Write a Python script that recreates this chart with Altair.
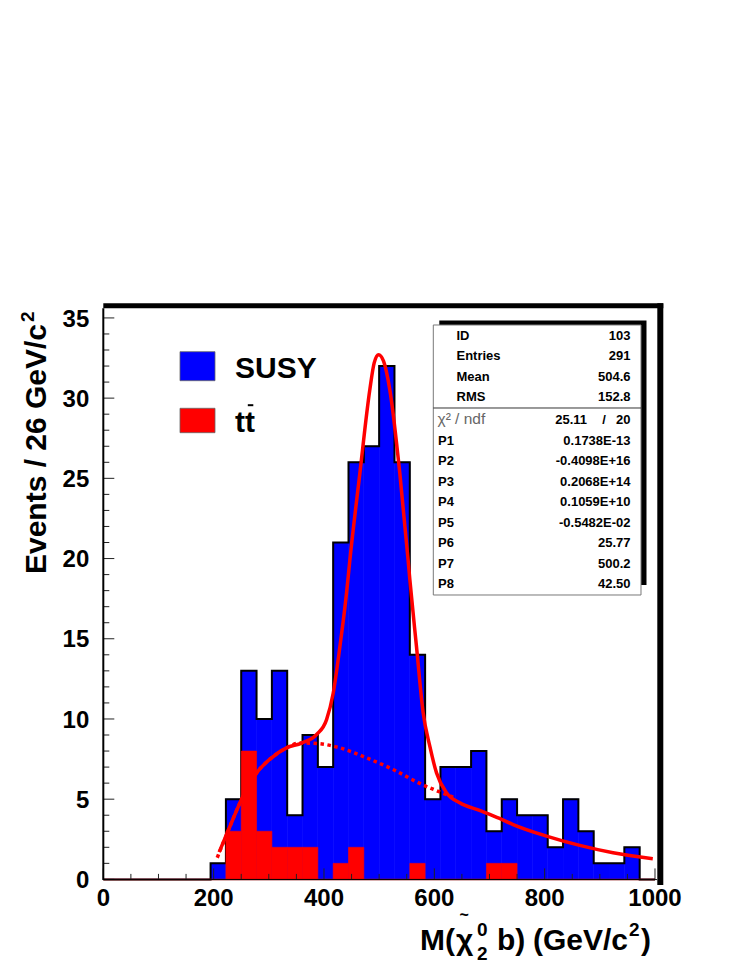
import altair as alt
import pandas as pd

# ---------------- data ----------------
n_bins = 36
x_lo, x_hi = 0.0, 1000.0
susy_counts = [0, 0, 0, 0, 0, 0, 0, 1, 5, 13, 10, 13, 4, 9, 7, 21, 26, 27, 32, 26, 14,
               5, 7, 7, 8, 3, 5, 4, 4, 2, 5, 3, 1, 1, 2, 0]
ttbar_counts = [0, 0, 0, 0, 0, 0, 0, 0, 3, 8, 3, 2, 2, 2, 0, 1, 2, 0, 0, 0, 1,
                0, 0, 0, 0, 1, 1, 0, 0, 0, 0, 0, 0, 0, 0, 0]

fit_x = [210, 229.5, 250.7, 277.9, 305, 332, 359.4, 386.6, 404.7, 416.7, 428.8, 440.9,
         446.9, 465, 483, 491, 499, 508, 519.4, 537.5, 552.5, 555.6, 567.7, 579.7,
         591.8, 604, 622, 646, 682, 718.3, 742.8, 803.3, 863.6, 924, 996]
fit_y = [1.7, 3.3, 5.0, 6.64, 7.58, 8.2, 8.5, 9.03, 9.96, 11.6, 14.5, 17.85,
         19.9, 25.3, 30.5, 32.2, 32.7, 32.3, 30.5, 25.3, 19.9, 18.7, 14.5, 10.4,
         8.3, 6.64, 5.4, 4.78, 4.3, 3.8, 3.42, 2.7, 2.12, 1.66, 1.29]

bkg_x = [206.5, 229.5, 250.7, 277.9, 305, 332, 356, 386.6, 428.8, 477, 525.4, 573.7, 610, 640]
bkg_y = [1.35, 3.3, 5.0, 6.64, 7.58, 8.2, 8.5, 8.47, 8.2, 7.58, 6.85, 5.98, 5.45, 5.05]

x_major = [0, 200, 400, 600, 800, 1000]
x_minor = [50, 100, 150, 250, 300, 350, 450, 500, 550, 650, 700, 750, 850, 900, 950]
y_major = [0, 5, 10, 15, 20, 25, 30, 35]
y_minor = [1, 2, 3, 4, 6, 7, 8, 9, 11, 12, 13, 14, 16, 17, 18, 19, 21, 22, 23, 24,
           26, 27, 28, 29, 31, 32, 33, 34]

stat_labels = ["ID", "Entries", "Mean", "RMS"]
stat_values = ["103", "291", "504.6", "152.8"]
chi2_label = "χ² / ndf"
chi2_value = "25.11"
ndf_value = "20"
par_labels = ["P1", "P2", "P3", "P4", "P5", "P6", "P7", "P8"]
par_values = ["0.1738E-13", "-0.4098E+16", "0.2068E+14", "0.1059E+10",
              "-0.5482E-02", "25.77", "500.2", "42.50"]

legend_labels = ["SUSY", "tt"]
legend_colors = ["#0000ff", "#ff0000"]

# ---------------- geometry ----------------
FONT = "Liberation Sans"
W, H = 551.7, 571.1
X0, Y0 = 103.3, 308.3          # page position of the plot origin
Y_TOP = 35.6

xs = alt.Scale(domain=[x_lo, x_hi], nice=False, zero=False)
ys = alt.Scale(domain=[0, Y_TOP], nice=False, zero=False)
pxs = alt.Scale(domain=[0, W], nice=False, zero=False)     # identity pixel scales
pys = alt.Scale(domain=[H, 0], nice=False, zero=False)

bw = (x_hi - x_lo) / n_bins
edges = [x_lo + i * bw for i in range(n_bins + 1)]
bins = pd.DataFrame({"lo": edges[:-1], "hi": edges[1:], "susy": susy_counts,
                     "tt": ttbar_counts, "base": 0})
tt_bins = bins[bins["tt"] > 0]
outline = pd.DataFrame({"x": edges[:-1] + [x_hi], "y": susy_counts + [0]})
fit_df = pd.DataFrame({"x": fit_x, "y": fit_y})
bkg_df = pd.DataFrame({"x": bkg_x, "y": bkg_y})
zero_df = pd.DataFrame({"a": [x_lo], "b": [x_hi], "z": [0]})


def pix_df(rows):
    df = pd.DataFrame(rows, columns=["a1", "a2", "b1", "b2"])
    df["a1"] -= X0; df["a2"] -= X0; df["b1"] -= Y0; df["b2"] -= Y0
    return df


def pix_rect(rows, **mark):
    return alt.Chart(pix_df(rows)).mark_rect(**mark).encode(
        x=alt.X("a1:Q", scale=pxs, axis=None), x2="a2:Q",
        y=alt.Y("b1:Q", scale=pys, axis=None), y2="b2:Q")


def pix_rule(rows, **mark):
    return alt.Chart(pix_df(rows)).mark_rule(**mark).encode(
        x=alt.X("a1:Q", scale=pxs, axis=None), x2="a2:Q",
        y=alt.Y("b1:Q", scale=pys, axis=None), y2="b2:Q")


def pix_text(rows, align="left", weight="bold", color="black"):
    df = pd.DataFrame(rows, columns=["px", "py", "t", "s", "ang"])
    df["px"] -= X0; df["py"] -= Y0
    return alt.Chart(df).mark_text(align=align, baseline="alphabetic", font=FONT,
                                   fontWeight=weight, color=color).encode(
        x=alt.X("px:Q", scale=pxs, axis=None), y=alt.Y("py:Q", scale=pys, axis=None),
        text="t:N", size=alt.Size("s:Q", scale=None, legend=None),
        angle=alt.Angle("ang:Q", scale=None, legend=None))


layers = []

# histograms
layers.append(alt.Chart(bins).mark_rect(color=legend_colors[0], stroke=legend_colors[0],
                                        strokeWidth=0.6).encode(
    x=alt.X("lo:Q", scale=xs, axis=None), x2="hi:Q",
    y=alt.Y("susy:Q", scale=ys, axis=None), y2="base:Q"))
layers.append(alt.Chart(outline).mark_line(interpolate="step-after", color="black",
                                           strokeWidth=2).encode(
    x=alt.X("x:Q", scale=xs, axis=None), y=alt.Y("y:Q", scale=ys, axis=None)))
layers.append(alt.Chart(tt_bins).mark_rect(color=legend_colors[1], stroke=legend_colors[1],
                                           strokeWidth=0.6).encode(
    x=alt.X("lo:Q", scale=xs, axis=None), x2="hi:Q",
    y=alt.Y("tt:Q", scale=ys, axis=None), y2="base:Q"))
layers.append(alt.Chart(zero_df).mark_rule(color="#b00000", strokeWidth=1.5).encode(
    x=alt.X("a:Q", scale=xs, axis=None), x2="b:Q", y=alt.Y("z:Q", scale=ys, axis=None)))

# fit curves
layers.append(alt.Chart(bkg_df).mark_line(color="#ff0000", strokeWidth=3.5,
                                          strokeDash=[3.5, 3.5], interpolate="monotone").encode(
    x=alt.X("x:Q", scale=xs, axis=None), y=alt.Y("y:Q", scale=ys, axis=None)))
layers.append(alt.Chart(fit_df).mark_line(color="#ff0000", strokeWidth=3.5,
                                          interpolate="monotone").encode(
    x=alt.X("x:Q", scale=xs, axis=None), y=alt.Y("y:Q", scale=ys, axis=None)))

# inward ticks
for vals, ln in ((x_major, 11), (x_minor, 5.5)):
    layers.append(alt.Chart(pd.DataFrame({"v": vals})).mark_rule(color="#222", strokeWidth=1).encode(
        x=alt.X("v:Q", scale=xs, axis=None), y=alt.value(H), y2=alt.value(H - ln)))
for vals, ln in ((y_major, 11), (y_minor, 6)):
    layers.append(alt.Chart(pd.DataFrame({"v": vals})).mark_rule(color="#222", strokeWidth=1).encode(
        y=alt.Y("v:Q", scale=ys, axis=None), x=alt.value(0), x2=alt.value(ln)))

# tick labels
xl = pd.DataFrame({"v": x_major, "lab": [str(v) for v in x_major]})
layers.append(alt.Chart(xl).mark_text(align="center", baseline="alphabetic", font=FONT,
                                      fontWeight="bold", fontSize=24, color="black").encode(
    x=alt.X("v:Q", scale=xs, axis=None), y=alt.value(H + 27), text="lab:N"))
yl = pd.DataFrame({"v": y_major, "lab": [str(v) for v in y_major]})
layers.append(alt.Chart(yl).mark_text(align="right", baseline="alphabetic", font=FONT,
                                      fontWeight="bold", fontSize=24, color="black", dy=8.6).encode(
    y=alt.Y("v:Q", scale=ys, axis=None), x=alt.value(-14), text="lab:N"))

# frame
layers.append(pix_rule([[103.3, 103.3, 308.3, 880.0]], color="black", strokeWidth=2))
layers.append(pix_rule([[103.3, 657.0, 879.6, 879.6]], color="black", strokeWidth=1))
layers.append(pix_rule([[103.3, 663.3, 305.8, 305.8]], color="black", strokeWidth=5))
layers.append(pix_rule([[660.3, 660.3, 303.3, 885.0]], color="black", strokeWidth=6))

# legend
layers.append(pix_rect([[180, 215, 351.7, 380.7]], fill=legend_colors[0], stroke="#666", strokeWidth=0.8))
layers.append(pix_rect([[180, 215, 408.3, 432.7]], fill=legend_colors[1], stroke="#666", strokeWidth=0.8))
layers.append(pix_text([[235, 377.7, legend_labels[0], 30, 0],
                        [235, 431.7, legend_labels[1], 30, 0]]))
layers.append(pix_rule([[247.8, 253.3, 405.2, 405.2]], color="black", strokeWidth=2))

# statistics box
layers.append(pix_rect([[439.3, 646.5, 320.5, 585.0]], fill="black"))
layers.append(pix_rect([[433.3, 641.0, 325.0, 595.0]], fill="white", stroke="#777", strokeWidth=1))
layers.append(pix_rule([[433.3, 641.0, 408.0, 408.0]], color="#333", strokeWidth=1))
row_top = [335.5 + 20.3 * i for i in range(len(stat_labels))]
row_par = [440.0 + 20.5 * i for i in range(len(par_labels))]
lab_rows = [[456.5, y + 4.7, t, 13, 0] for y, t in zip(row_top, stat_labels)]
lab_rows += [[438.0, y + 4.7, t, 13, 0] for y, t in zip(row_par, par_labels)]
val_rows = [[630.5, y + 4.7, t, 13, 0] for y, t in zip(row_top, stat_values)]
val_rows += [[630.5, y + 4.7, t, 13, 0] for y, t in zip(row_par, par_values)]
val_rows += [[587.0, 419.0 + 4.7, chi2_value, 13, 0], [630.5, 419.0 + 4.7, ndf_value, 13, 0]]
layers.append(pix_text(lab_rows))
layers.append(pix_text(val_rows, align="right"))
layers.append(pix_text([[604.0, 419.0 + 4.7, "/", 13, 0]], align="center"))
layers.append(pix_text([[437.5, 419.0 + 5.2, chi2_label, 15.5, 0]], weight="normal", color="#666"))

# axis titles
layers.append(pix_text([[46, 324, "Events / 26 GeV/c", 30, 270]], align="right"))
layers.append(pix_text([[34, 322, "2", 19, 270]], align="left"))
layers.append(pix_text([
    [420, 950, "M(", 30, 0],
    [456, 950, "χ", 30, 0],
    [477, 936, "0", 19, 0],
    [477, 960, "2", 19, 0],
    [497, 950, "b)", 30, 0],
    [533, 950, "(GeV/c", 30, 0],
    [629, 936, "2", 19, 0],
    [641, 950, ")", 30, 0],
]))
layers.append(pix_text([[459.5, 920.5, "~", 16, 0]]))

chart = alt.layer(*layers).resolve_scale(x="independent", y="independent").properties(
    width=W, height=H,
    autosize=alt.AutoSizeParams(type="none"),
    padding={"left": X0 - 8, "top": Y0 - 8, "right": 84, "bottom": 84},
).configure_view(stroke=None)

chart.save("out.html", embed_options={"renderer": "svg", "actions": False})
